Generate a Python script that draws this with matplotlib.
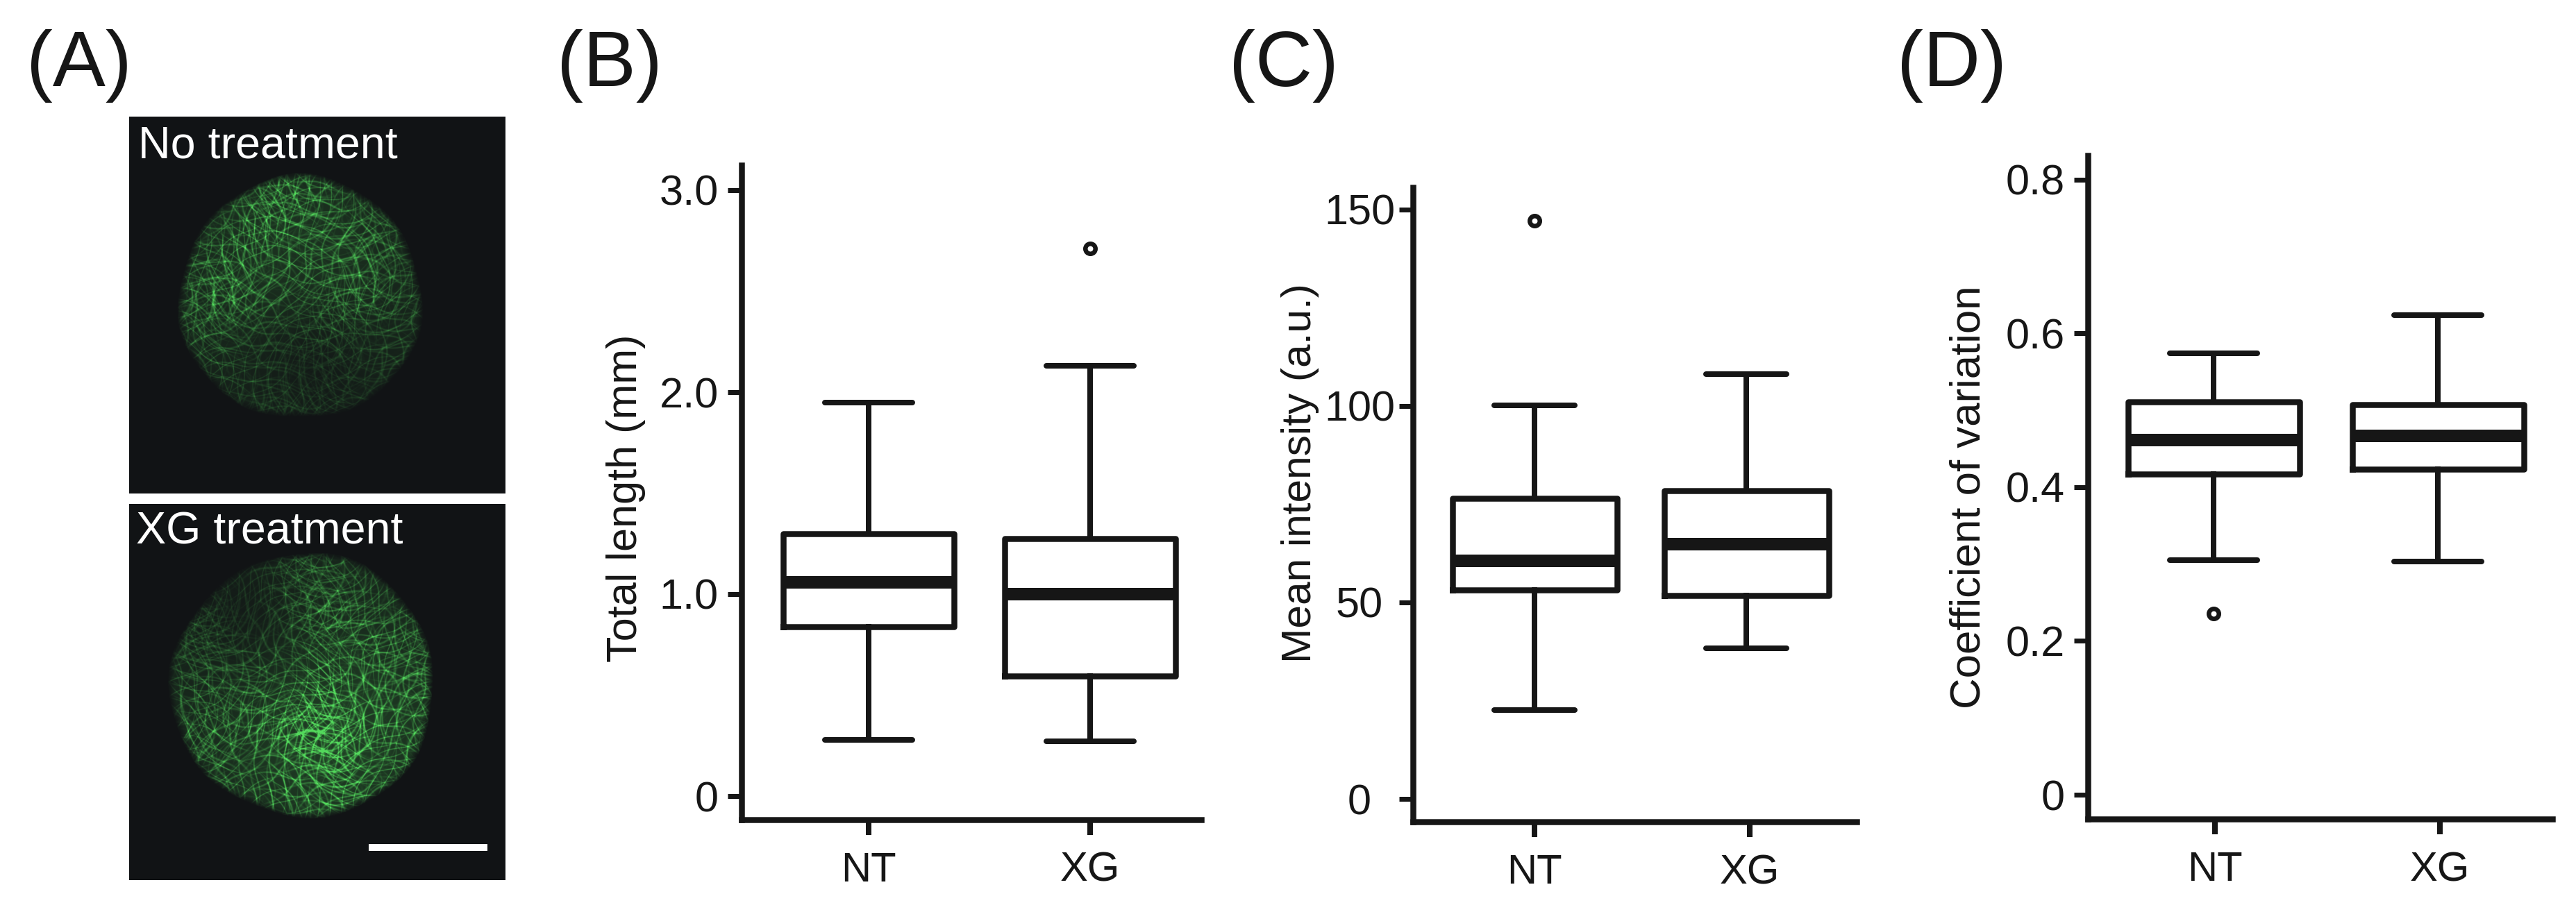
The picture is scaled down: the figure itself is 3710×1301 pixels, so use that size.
import numpy as np
import matplotlib
matplotlib.use('Agg')
import matplotlib.pyplot as plt

plt.rcParams['font.family'] = ['Liberation Sans', 'DejaVu Sans']

W, H = 3710, 1301
INK = '#161616'

categories = ['NT', 'XG']

# whisker low, q1, median, q3, whisker high
total_length_nt = [0.28, 0.84, 1.06, 1.30, 1.95]
total_length_xg = [0.27, 0.595, 1.00, 1.275, 2.13]
total_length_out = [[], [2.71]]
total_length_ticks = [0, 1, 2, 3]
total_length_labels = ['0', '1.0', '2.0', '3.0']

intensity_nt = [22.6, 53.2, 60.6, 76.5, 100.1]
intensity_xg = [38.4, 51.8, 64.8, 78.4, 108.2]
intensity_out = [[147.1], []]
intensity_ticks = [0, 50, 100, 150]
intensity_labels = ['0', '50', '100', '150']

cv_nt = [0.305, 0.417, 0.461, 0.511, 0.574]
cv_xg = [0.303, 0.423, 0.467, 0.507, 0.624]
cv_out = [[0.236], []]
cv_ticks = [0, 0.2, 0.4, 0.6, 0.8]
cv_labels = ['0', '0.2', '0.4', '0.6', '0.8']


def px(v):
    # pixels to points at dpi 100
    return v * 0.72


def box_panel(left, right, top, bottom, tick_px, box_px, y0_px, y_per_unit, nt, xg, outliers,
              yticks, ylabels, ylabel, ylabel_xy, ylabel_size, box_w, cap_w, centered=False):
    ax = fig.add_axes([left / W, 1 - bottom / H, (right - left) / W, (bottom - top) / H])
    ax.patch.set_alpha(0)
    per_cat = tick_px[1] - tick_px[0]
    ax.set_xlim(1 + (left - tick_px[0]) / per_cat, 1 + (right - tick_px[0]) / per_cat)
    ax.set_ylim((y0_px - bottom) / y_per_unit, (y0_px - top) / y_per_unit)

    stats = []
    for vals, out, name in zip([nt, xg], outliers, categories):
        stats.append({'whislo': vals[0], 'q1': vals[1], 'med': vals[2], 'q3': vals[3],
                      'whishi': vals[4], 'fliers': out, 'label': name})
    positions = [1 + (p - tick_px[0]) / per_cat for p in box_px]
    ax.bxp(stats, positions=positions, widths=box_w / per_cat, capwidths=cap_w / per_cat,
           boxprops=dict(color=INK, linewidth=px(8.5)),
           whiskerprops=dict(color=INK, linewidth=px(8)),
           capprops=dict(color=INK, linewidth=px(8), solid_capstyle='round'),
           medianprops=dict(color=INK, linewidth=px(18), solid_capstyle='butt'),
           flierprops=dict(marker='o', markersize=px(14.5), markerfacecolor='white',
                           markeredgecolor=INK, markeredgewidth=px(6.5)),
           manage_ticks=False)

    for side in ['top', 'right']:
        ax.spines[side].set_visible(False)
    for side in ['left', 'bottom']:
        ax.spines[side].set_linewidth(px(8.5))
        ax.spines[side].set_color(INK)

    ax.set_xticks([1, 2])
    ax.set_xticklabels(categories)
    ax.tick_params(axis='x', length=px(22), width=px(8), color=INK, pad=px(24),
                   labelsize=43, labelcolor=INK)
    ax.set_yticks(yticks)
    ax.set_yticklabels(ylabels)
    y_pad = px(57) if centered else px(13)
    ax.tick_params(axis='y', length=px(20), width=px(7), color=INK, pad=y_pad,
                   labelsize=44, labelcolor=INK)
    if centered:
        for lab in ax.get_yticklabels():
            lab.set_ha('center')
    overlay.text(ylabel_xy[0], ylabel_xy[1], ylabel, rotation=90, ha='center', va='center',
                 fontsize=ylabel_size, color=INK)
    return ax


def fibre_texture(x0, x1, y0, y1, cx, cy, r, phase, hot, dark, gain):
    # Stand-in for the micrograph: ridges of layered sines, not chart data
    xs = np.arange(x0, x1)
    ys = np.arange(y0, y1)
    xx, yy = np.meshgrid(xs, ys)
    bright = np.zeros(xx.shape)
    angles = [0.1, 0.35, 0.6, 0.85, 1.05, 1.3, 1.5, 1.75, 2.0, 2.2, 2.45, 2.7, 2.95,
              0.22, 0.72, 1.18, 1.63, 2.08, 2.58, 3.05]
    freqs = [0.131, 0.097, 0.157, 0.113, 0.173, 0.103, 0.149, 0.127, 0.181, 0.109, 0.163, 0.139,
             0.119, 0.191, 0.107, 0.167, 0.123, 0.151, 0.101, 0.143]
    for i, (ang, fr) in enumerate(zip(angles, freqs)):
        k = i + phase
        s = xx * np.cos(ang) + yy * np.sin(ang)
        t = -xx * np.sin(ang) + yy * np.cos(ang)
        wob = 1.1 * np.sin(0.021 * t + 1.3 * k) + 0.7 * np.sin(0.067 * t + 2.3 * k)
        f = np.sin(fr * s + wob + 0.9 * k)
        patch = 0.5 + 0.5 * np.sin(0.029 * t + 0.023 * s + 1.7 * k)
        bright += np.exp(-(f / 0.16) ** 2) * patch ** 2
    bright = bright / 3.6 + 0.14

    # slightly uneven rim, as in the confocal disc
    theta = np.arctan2(yy - cy, xx - cx)
    rim = r + 3 * np.sin(3 * theta + phase) + 2 * np.sin(7 * theta + 2 * phase)
    dist = np.hypot(xx - cx, yy - cy)
    disc = np.clip((rim - dist) / 10, 0, 1)
    shade = 0.62 + 0.8 * np.exp(-((xx - hot[0]) ** 2 + (yy - hot[1]) ** 2) / (2 * 110 ** 2))
    shade *= 1 - 0.6 * np.exp(-((xx - dark[0]) ** 2 + (yy - dark[1]) ** 2) / (2 * 70 ** 2))
    g = np.clip(bright * shade * gain, 0, 1) * disc

    img = np.zeros(xx.shape + (3,))
    img[..., 0] = 17 / 255 + g * 0.26
    img[..., 1] = 19 / 255 + g * 0.78
    img[..., 2] = 21 / 255 + g * 0.28
    return np.clip(img, 0, 1)


fig = plt.figure(figsize=(W / 100, H / 100), dpi=100, facecolor='white')

# full figure axes in pixel coordinates for panel A and loose text
overlay = fig.add_axes([0, 0, 1, 1], zorder=5)
overlay.set_xlim(0, W)
overlay.set_ylim(H, 0)
overlay.axis('off')
overlay.patch.set_alpha(0)

top_img = fibre_texture(186, 728, 168, 711, 432, 429, 176, 0, (420, 360), (450, 530), 0.8)
bot_img = fibre_texture(186, 728, 726, 1268, 436, 987, 191, 5, (480, 1060), (340, 880), 1.05)
overlay.imshow(top_img, extent=(186, 728, 711, 168), aspect='auto', interpolation='bilinear')
overlay.imshow(bot_img, extent=(186, 728, 1268, 726), aspect='auto', interpolation='bilinear')
overlay.set_xlim(0, W)
overlay.set_ylim(H, 0)

overlay.text(199, 228, 'No treatment', color='white', fontsize=46.5, va='baseline')
overlay.text(196, 784, 'XG treatment', color='white', fontsize=46.5, va='baseline')
overlay.plot([531, 702], [1221, 1221], color='white', lw=px(10), solid_capstyle='butt')

for letter, x in zip(['(A)', '(B)', '(C)', '(D)'], [38, 802, 1770, 2732]):
    overlay.text(x, 124, letter, fontsize=82, color=INK, va='baseline')

box_panel(1068, 1730, 238, 1181, [1251, 1570], [1251, 1570], 1147, 291,
          total_length_nt, total_length_xg, total_length_out,
          total_length_ticks, total_length_labels, 'Total length (mm)', (901, 718), 44, 246, 126)
box_panel(2035, 2674, 270, 1184, [2210, 2520], [2210, 2515], 1151, 5.66,
          intensity_nt, intensity_xg, intensity_out,
          intensity_ticks, intensity_labels, 'Mean intensity (a.u.)', (1872, 682), 43.5, 237, 116,
          centered=True)
box_panel(3007, 3676, 224, 1180, [3190, 3514], [3188, 3511], 1145, 1108,
          cv_nt, cv_xg, cv_out,
          cv_ticks, cv_labels, 'Coefficient of variation', (2836, 716), 44.5, 247, 126)

fig.savefig('out.png', dpi=100)
